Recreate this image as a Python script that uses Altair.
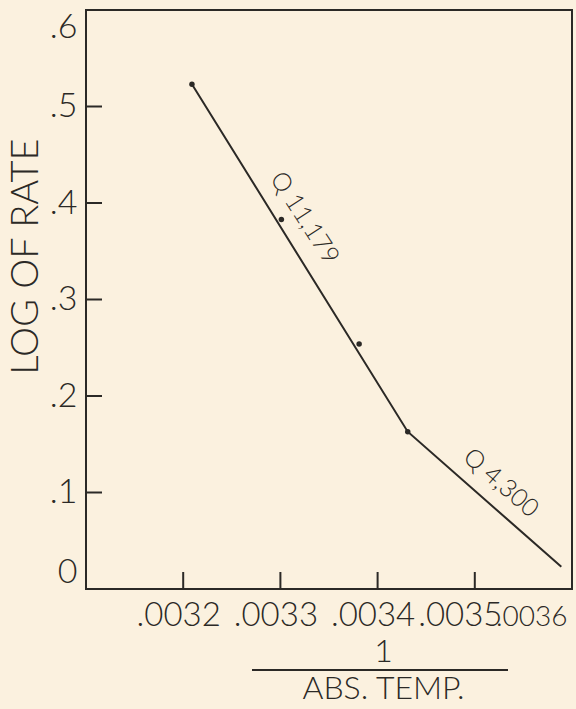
import altair as alt
import pandas as pd

# Fitted line through the Arrhenius data (two straight segments)
line_x = [0.003209, 0.003431, 0.003589]
line_y = [0.523, 0.163, 0.023]

# Measured points
point_x = [0.003209, 0.003301, 0.003381, 0.003431]
point_y = [0.523, 0.383, 0.254, 0.163]

# Slope annotations (activation energy Q) placed along each segment
note_text = ["Q 11,179", "Q 4,300"]
note_x = [0.003325, 0.003527]
note_y = [0.3845, 0.110]
note_angle = [57, 41]

x_ticks = [0.0032, 0.0033, 0.0034, 0.0035, 0.0036]
x_labels = [".0032", ".0033", ".0034", ".0035", ".0036"]
y_ticks = [0.0, 0.1, 0.2, 0.3, 0.4, 0.5, 0.6]
y_labels = ["0", ".1", ".2", ".3", ".4", ".5", ".6"]

INK = "#2b2926"
PAPER = "#fbf1df"
FONT = "Lato"

W, H = 486, 579

line_df = pd.DataFrame({"x": line_x, "y": line_y})
point_df = pd.DataFrame({"x": point_x, "y": point_y})
note_df = pd.DataFrame({"x": note_x, "y": note_y, "text": note_text, "angle": note_angle})
xt_df = pd.DataFrame({"x": x_ticks[:-1]})
yt_df = pd.DataFrame({"y": y_ticks[1:-1]})

x_map = "{" + ",".join(f"'{v:.4f}':'{l}'" for v, l in zip(x_ticks, x_labels)) + "}"
y_map = "{" + ",".join(f"'{v:.1f}':'{l}'" for v, l in zip(y_ticks, y_labels)) + "}"

xscale = alt.Scale(domain=[0.0031, 0.0036], nice=False, zero=False)
yscale = alt.Scale(domain=[0.0, 0.6], nice=False)

last_x = "datum.value > 0.00355"
xaxis = alt.Axis(
    values=x_ticks,
    labelExpr=f"{x_map}[format(datum.value, '.4f')]",
    labelFont=FONT, labelFontWeight=300, labelColor=INK,
    labelFontSize={"condition": {"test": last_x, "value": 28}, "value": 33},
    labelPadding={"condition": {"test": last_x, "value": 14}, "value": 10},
    labelOffset={"condition": {"test": "abs(datum.value - 0.0035) < 0.00001", "value": -15}, "value": -5},
    labelFlush=True, labelOverlap=False,
    ticks=False, domain=False, grid=False,
    title=["1", "ABS. TEMP."],
    titleFont=FONT, titleFontSize=32, titleFontWeight=300, titleColor=INK,
    titleLineHeight=37, titleAlign="center", titleBaseline="top",
    titleX=297, titleY=47,
)
yaxis = alt.Axis(
    values=y_ticks,
    labelExpr=f"{y_map}[format(datum.value, '.1f')]",
    labelFont=FONT, labelFontSize=34, labelFontWeight=300, labelColor=INK,
    labelPadding=9, labelFlush=True, labelOverlap=False,
    ticks=False, domain=False, grid=False,
    title="LOG OF RATE",
    titleFont=FONT, titleFontSize=38, titleFontWeight=300, titleColor=INK,
    titleAngle=270, titleAlign="center", titleBaseline="middle",
    titleX=-60, titleY=246,
)

base_x = alt.X("x:Q", scale=xscale, axis=xaxis)
base_y = alt.Y("y:Q", scale=yscale, axis=yaxis)

fit = alt.Chart(line_df).mark_line(color=INK, strokeWidth=2).encode(x=base_x, y=base_y)

dots = alt.Chart(point_df).mark_point(
    filled=True, color=INK, size=30, opacity=1
).encode(x=alt.X("x:Q", scale=xscale), y=alt.Y("y:Q", scale=yscale))

notes = alt.Chart(note_df).mark_text(
    font=FONT, fontSize=25, fontWeight=300, color=INK, align="center", baseline="middle"
).encode(
    x=alt.X("x:Q", scale=xscale),
    y=alt.Y("y:Q", scale=yscale),
    text="text:N",
    angle=alt.Angle("angle:Q", scale=None),
)

# Inward-pointing tick marks on both axes
xtick_marks = alt.Chart(xt_df).mark_rule(color=INK, strokeWidth=2).encode(
    x=alt.X("x:Q", scale=xscale), y=alt.value(H - 17), y2=alt.value(H)
)
ytick_marks = alt.Chart(yt_df).mark_rule(color=INK, strokeWidth=2).encode(
    y=alt.Y("y:Q", scale=yscale), x=alt.value(0), x2=alt.value(16)
)

# Fraction bar of the 1 / ABS. TEMP. axis title
frac_bar = alt.Chart(xt_df).mark_rule(color=INK, strokeWidth=2).encode(
    x=alt.value(166), x2=alt.value(422), y=alt.value(660)
)

chart = (
    alt.layer(fit, dots, notes, xtick_marks, ytick_marks, frac_bar)
    .properties(
        width=W, height=H, background=PAPER,
        padding={"left": 86, "top": 10, "right": 4, "bottom": 120},
        autosize=alt.AutoSizeParams(type="none"),
    )
    .configure_view(stroke=INK, strokeWidth=2, fill=PAPER, clip=False)
)

chart.save("out.html", embed_options={"renderer": "svg", "actions": False})
